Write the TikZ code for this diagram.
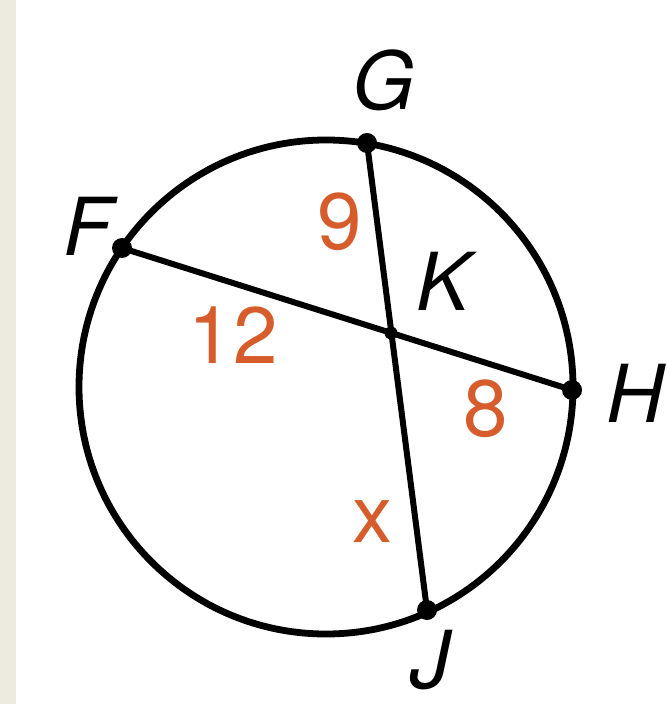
\documentclass[tikz,border=0pt]{standalone}
\usepackage{fontspec}
\setmainfont{TeX Gyre Heros}
\usepackage{tikz}
\definecolor{paper}{RGB}{237,234,224}
\definecolor{numorange}{RGB}{214,92,44}

\begin{document}
\begin{tikzpicture}[x=0.5pt,y=-0.5pt,
 rim/.style={draw=black,line width=3.4pt},
 chord/.style={draw=black,line width=3pt},
 pt/.style={font=\fontsize{40}{40}\selectfont\itshape,inner sep=0pt},
 num/.style={font=\fontsize{40}{40}\selectfont,text=numorange,inner sep=0pt}]
\useasboundingbox (0,0) rectangle (667,704);
\fill[paper] (0,0) rectangle (16,704);
% circle and chords
\coordinate (O) at (326,387);
\coordinate (F) at (122,248);
\coordinate (G) at (367,143);
\coordinate (H) at (572,390);
\coordinate (J) at (427,610);
\coordinate (K) at (391,333);
\draw[rim] (O) circle (247);
\draw[chord] (F)--(H);
\draw[chord] (G)--(J);
\foreach \p in {F,G,H,J} \fill (\p) circle (10);
\fill (K) circle (6.5);
% letters
\node[pt] (labG) at (384,80) {G};
\node[pt] (labF) at (88,226) {F};
\node[pt] (labK) at (443,281) {K};
\node[pt] (labH) at (635,393) {H};
\node[pt] (labJ) at (430,660) {J};
% lengths
\node[num] (len9) at (340,222) {9};
\node[num] (len12) at (233,335) {12};
\node[num] (len8) at (486,409) {8};
\node[num] (lenx) at (372,522) {x};
\end{tikzpicture}
\end{document}
